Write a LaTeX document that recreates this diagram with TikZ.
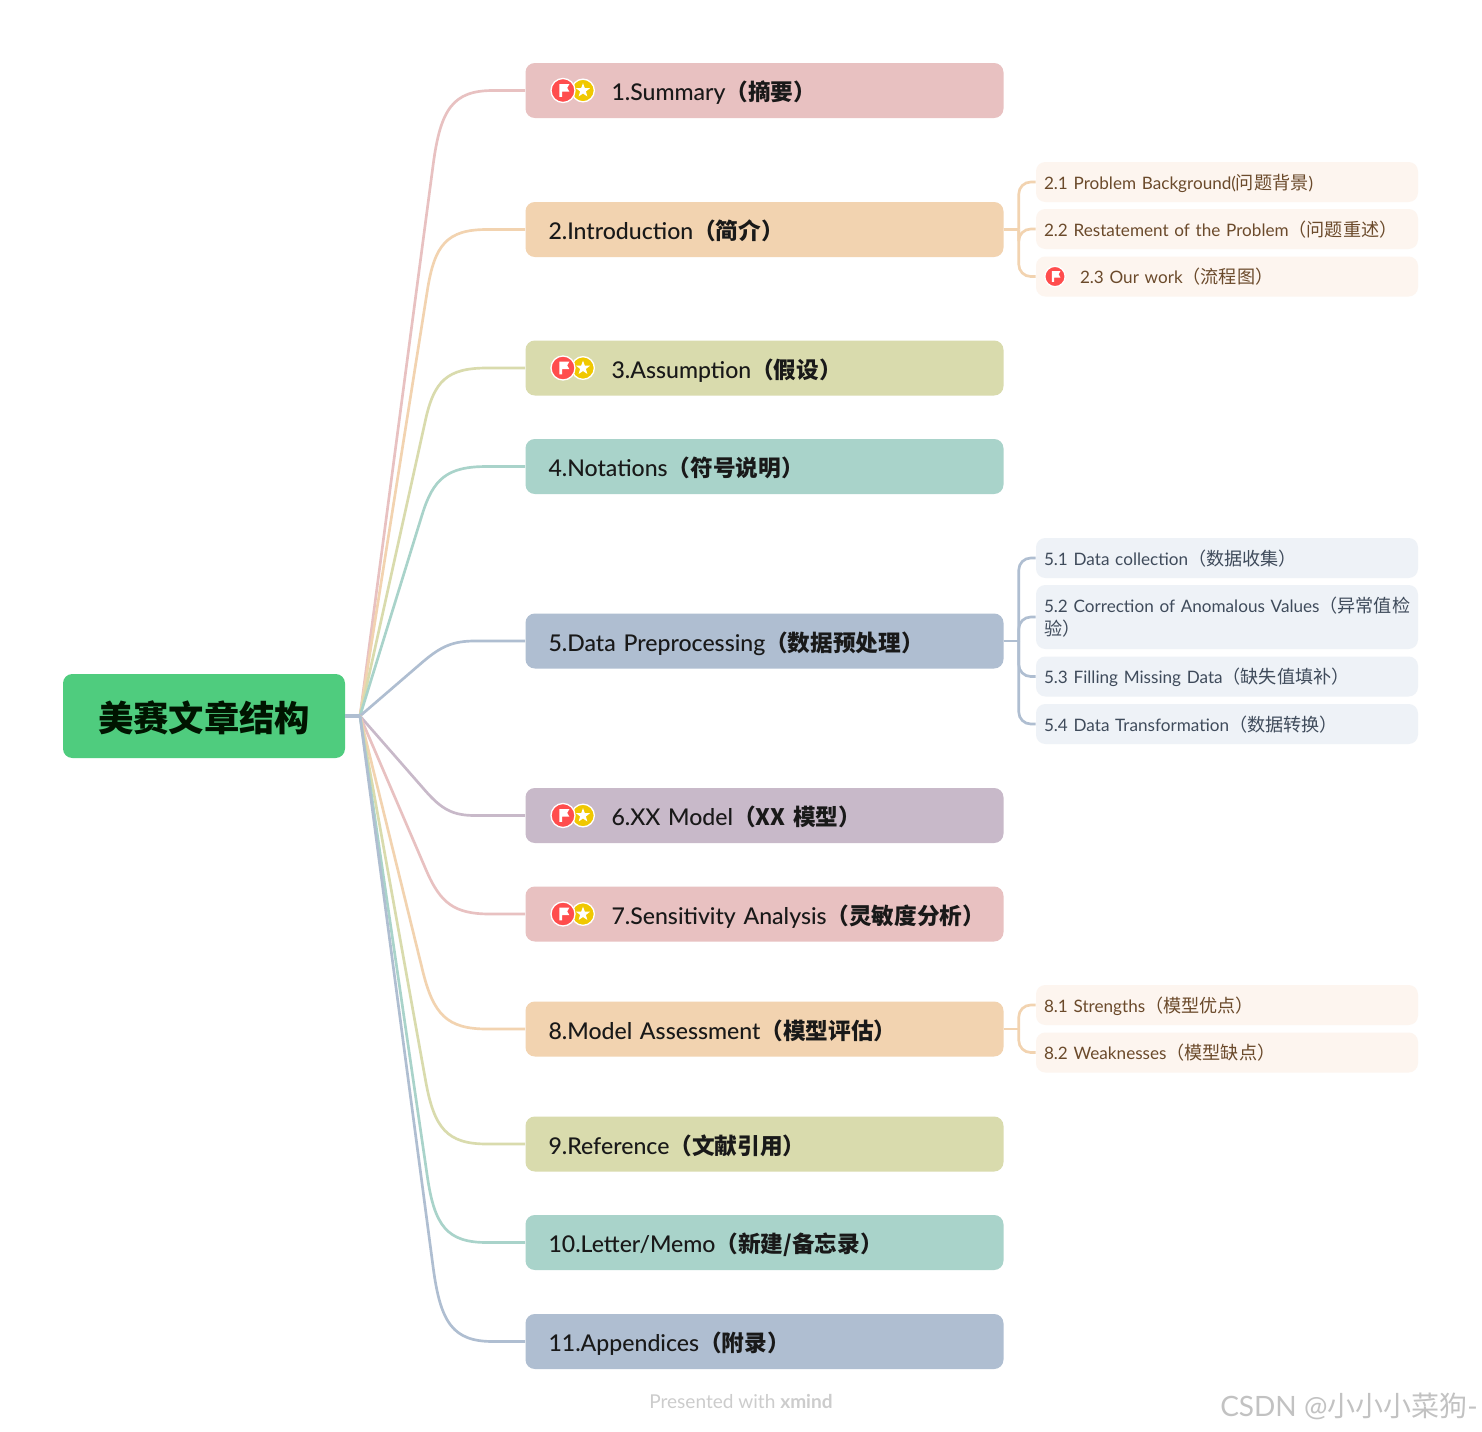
\documentclass[tikz,border=0pt]{standalone}
\usepackage{fontspec}
\setmainfont{Lato}
\newfontfamily\medfont{Lato Medium}
\newfontfamily\cjk{Noto Sans CJK SC}
\usetikzlibrary{calc,shapes.geometric}
\definecolor{cpink}{HTML}{E8C1C1}
\definecolor{corange}{HTML}{F2D3B0}
\definecolor{colive}{HTML}{D9DBAD}
\definecolor{cteal}{HTML}{A9D3CA}
\definecolor{cblue}{HTML}{AFBED1}
\definecolor{cmauve}{HTML}{C8B9C9}
\definecolor{croot}{HTML}{4FCC7E}
\definecolor{subo}{HTML}{FDF5EF}
\definecolor{subb}{HTML}{EEF2F7}
\definecolor{txto}{HTML}{6B4A2B}
\definecolor{txtb}{HTML}{3F4B5B}
\definecolor{cred}{HTML}{FF4D4D}
\definecolor{cyel}{HTML}{F0C800}
\newcommand{\Zm}[1]{{\cjk\bfseries\fontsize{17}{22}\selectfont #1}}
\newcommand{\Zs}[1]{{\cjk\fontsize{13.6}{17.25}\selectfont #1}}
\newcommand{\Pad}{\hspace*{47.25pt}}
\tikzset{
 x=0.75pt,y=-0.75pt,
 rootbox/.style={fill=croot,rounded corners=7pt,minimum width=211.5pt,minimum height=63pt,inner sep=0pt,text height=23pt,text depth=0pt,font=\cjk\bfseries\fontsize{26.5}{30}\selectfont,text=black!92!green},
 mainbox/.style={fill=#1,rounded corners=7pt,minimum height=41.25pt,inner ysep=0pt,inner xsep=17.25pt,text width=324pt,text height=15.2pt,text depth=0pt,align=left,font=\medfont\fontsize{17.3}{22}\selectfont,text=black!90},
 subbox/.style={fill=#1,rounded corners=7pt,inner ysep=0pt,inner xsep=6pt,text width=274.5pt,align=left,font=\fontsize{12.85}{17.25}\selectfont},
 subone/.style={subbox=#1,minimum height=30pt,text height=11.2pt,text depth=0pt},
 mainline/.style={draw=#1,line width=2pt},
 subline/.style={draw=#1,line width=2pt,rounded corners=9pt},
 redcirc/.style={circle,fill=cred,draw=white,line width=1pt,minimum size=#1,inner sep=0pt},
 yelcirc/.style={circle,fill=cyel,draw=white,line width=1pt,minimum size=#1,inner sep=0pt},
 whitestar/.style={star,star points=5,star point ratio=2.4,fill=white,minimum size=11pt,inner sep=0pt},
 footnote/.style={inner sep=0pt,anchor=west},
}
\newcommand{\Mn}[4]{\node[mainbox=#3] (#1) at (764.5,#2) {\mbox{#4}};}
% \Cv{name}{corner x}{distance of curve start, pt}{colour}{length of the curve past the corner, px}
\newcommand{\Cv}[5]{%
 \coordinate (k#1) at (#2,0 |- #1.west);
 \draw[mainline=#4] (j) -- ($(k#1)!#3pt!(j)$) .. controls ($(k#1)!0.25*#3pt!(j)$) and ($(k#1)+(0.2*#5,0)$) .. ($(k#1)+(#5,0)$) -- (#1.west);}
\newcommand{\Flag}[3]{% name, pos, scale
 \node[redcirc=#3*18pt] (#1) at (#2) {};
 \fill[white,shift={(#1.center)},scale=#3] (-3.6,-6.4) -- (6.4,-6.4) -- (4.2,-2.6) -- (6.4,1.2) -- (-1,1.2) -- (-1,6.4) -- (-3.6,6.4) -- cycle;}
\newcommand{\Star}[2]{%
 \node[yelcirc=17pt] (#1) at (#2) {};
 \node[whitestar] (#1s) at (#1.center) {};}
\begin{document}
\begin{tikzpicture}
\useasboundingbox (0,0) rectangle (1482,1432);
\fill[white] (0,0) rectangle (1482,1432);
\node[rootbox] (root) at (204,716) {美赛文章结构};
\coordinate (j) at (360,716);

\Mn{m1}{90.5}{cpink}{\Pad 1.Summary\Zm{（摘要）}}
\Mn{m2}{229.5}{corange}{2.Introduction\Zm{（简介）}}
\Mn{m3}{368}{colive}{\Pad 3.Assumption\Zm{（假设）}}
\Mn{m4}{466.5}{cteal}{4.Notations\Zm{（符号说明）}}
\Mn{m5}{641}{cblue}{5.Data Preprocessing\Zm{（数据预处理）}}
\Mn{m6}{815.5}{cmauve}{\Pad 6.XX Model\Zm{（XX 模型）}}
\Mn{m7}{914}{cpink}{\Pad 7.Sensitivity Analysis\Zm{（灵敏度分析）}}
\Mn{m8}{1029}{corange}{8.Model Assessment\Zm{（模型评估）}}
\Mn{m9}{1144}{colive}{9.Reference\Zm{（文献引用）}}
\Mn{m10}{1242.5}{cteal}{10.Letter/Memo\Zm{（新建/备忘录）}}
\Mn{m11}{1341.5}{cblue}{11.Appendices\Zm{（附录）}}

\Cv{m1}{443}{56}{cpink}{50}
\Cv{m2}{437}{46}{corange}{50}
\Cv{m3}{437}{40}{colive}{50}
\Cv{m4}{437}{38}{cteal}{50}
\Cv{m5}{447}{25}{cblue}{28}
\Cv{m6}{447}{25}{cmauve}{28}
\Cv{m7}{445}{36}{cpink}{45}
\Cv{m8}{437}{45}{corange}{50}
\Cv{m9}{437}{48}{colive}{50}
\Cv{m10}{437}{50}{cteal}{50}
\Cv{m11}{443}{56}{cblue}{50}
\draw[mainline=cblue,line width=2.4pt] (root.east) -- (j);

\node[subone=subo,text=txto] (s21) at (1227,182) {2.1 Problem Background(\Zs{问题背景})};
\node[subone=subo,text=txto] (s22) at (1227,229) {2.2 Restatement of the Problem\Zs{（问题重述）}};
\node[subone=subo,text=txto] (s23) at (1227,276.5) {\hspace*{27pt}2.3 Our work\Zs{（流程图）}};
\node[subone=subb,text=txtb] (s51) at (1227,558) {5.1 Data collection\Zs{（数据收集）}};
\node[subbox=subb,minimum height=48pt,text=txtb] (s52) at (1227,617) {\makebox[\linewidth][l]{5.2 Correction of Anomalous Values\Zs{（异常值检}}\\\Zs{验）}};
\node[subone=subb,text=txtb] (s53) at (1227,676.5) {5.3 Filling Missing Data\Zs{（缺失值填补）}};
\node[subone=subb,text=txtb] (s54) at (1227,724) {5.4 Data Transformation\Zs{（数据转换）}};
\node[subone=subo,text=txto] (s81) at (1227,1005) {8.1 Strengths\Zs{（模型优点）}};
\node[subone=subo,text=txto] (s82) at (1227,1052.5) {8.2 Weaknesses\Zs{（模型缺点）}};

\foreach \mm/\ss/\cc in {m2/s21/corange,m2/s22/corange,m2/s23/corange,m5/s51/cblue,m5/s52/cblue,m5/s53/cblue,m5/s54/cblue,m8/s81/corange,m8/s82/corange}{
 \draw[mainline=\cc] (\mm.east) -- ++(15,0);
 \draw[subline=\cc] (\mm.east) ++(15,0) |- (\ss.west);}

\Star{b1}{583,90.5} \Flag{a1}{563,90.5}{1}
\Star{b3}{583,368} \Flag{a3}{563,368}{1}
\Star{b6}{583,815.5} \Flag{a6}{563,815.5}{1}
\Star{b7}{583,914} \Flag{a7}{563,914}{1}
\Flag{a23}{1055,276.5}{0.85}

\node[footnote,text=black!20,font=\fontsize{14.3}{16}\selectfont] (pres) at (649,1401) {Presented with \textbf{xmind}};
\node[footnote,text=black!24,font=\fontsize{21}{25}\selectfont] (wm) at (1220,1406) {CSDN @{\cjk\fontsize{21}{25}\selectfont 小小小菜狗}-};
\end{tikzpicture}
\end{document}
